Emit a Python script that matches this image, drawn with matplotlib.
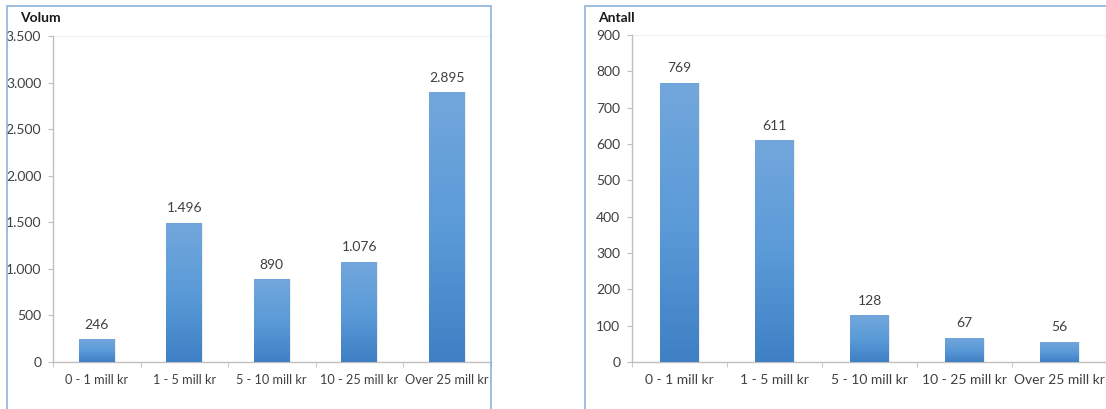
import numpy as np
import matplotlib
matplotlib.use("Agg")
import matplotlib.pyplot as plt
from matplotlib.patches import Rectangle
from matplotlib.colors import LinearSegmentedColormap

plt.rcParams['font.family'] = ['Lato', 'DejaVu Sans']

categories = ["0 - 1 mill kr", "1 - 5 mill kr", "5 - 10 mill kr", "10 - 25 mill kr", "Over 25 mill kr"]
volum = [246, 1496, 890, 1076, 2895]
antall = [769, 611, 128, 67, 56]

volum_ticks = [0, 500, 1000, 1500, 2000, 2500, 3000, 3500]
antall_ticks = [0, 100, 200, 300, 400, 500, 600, 700, 800, 900]

axis_grey = "#bfbfbf"
text_grey = "#404040"
border_blue = "#8db3d9"
bar_cmap = LinearSegmentedColormap.from_list("bar", ["#3f80c5", "#5b9bd8", "#72a7dc"])


def fmt(v):
    # norsk tusenskille
    return f"{v:,}".replace(",", ".")


def draw_panel(ax, values, ticks, title, title_x, xfont):
    x = np.arange(len(categories))
    bars = ax.bar(x, values, width=0.41, color="none", edgecolor="none", zorder=3)
    grad = np.linspace(0, 1, 256).reshape(-1, 1)
    for b in bars:
        x0, w, h = b.get_x(), b.get_width(), b.get_height()
        # svak skygge
        ax.add_patch(Rectangle((x0 + 0.01, 0), w, h, facecolor="#000000", alpha=0.07,
                               edgecolor="none", zorder=2))
        im = ax.imshow(grad, cmap=bar_cmap, origin="lower", extent=[x0, x0 + w, 0, h],
                       aspect="auto", zorder=3)
        im.set_clip_path(b)
    for xi, v in zip(x, values):
        ax.annotate(fmt(v), (xi, v), xytext=(0, 6), textcoords="offset points",
                    ha="center", va="bottom", fontsize=10, color=text_grey)

    ax.set_xlim(-0.5, len(categories) - 0.5)
    ax.set_ylim(0, ticks[-1])
    ax.set_yticks(ticks)
    ax.set_yticklabels([fmt(t) for t in ticks])
    ax.set_xticks(x)
    ax.set_xticklabels(categories)
    ax.set_xticks(np.arange(len(categories) + 1) - 0.5, minor=True)
    ax.tick_params(axis="x", which="major", length=0, pad=9, labelsize=xfont, labelcolor=text_grey)
    ax.tick_params(axis="x", which="minor", length=3.5, color=axis_grey, direction="out")
    ax.tick_params(axis="y", length=3.5, color=axis_grey, pad=5, labelsize=10, labelcolor=text_grey)
    for s in ["top", "right"]:
        ax.spines[s].set_visible(False)
    for s in ["left", "bottom"]:
        ax.spines[s].set_color(axis_grey)
        ax.spines[s].set_linewidth(1.0)
    ax.axhline(ticks[-1], color="#f0f0f0", lw=0.8, zorder=0)
    ax.figure.text(title_x, 0.955, title, fontsize=10, fontweight="bold", color="#1a1a1a",
                   ha="left", va="center")


fig = plt.figure(figsize=(11.06, 4.09), dpi=100)

# rammer rundt de to diagrammene
fig.patches.append(Rectangle((7 / 1106, -0.05), 484 / 1106, 1 - 6 / 409 + 0.05,
                             transform=fig.transFigure, fill=False, edgecolor=border_blue, lw=1.2))
fig.patches.append(Rectangle((585 / 1106, -0.05), 600 / 1106, 1 - 6 / 409 + 0.05,
                             transform=fig.transFigure, fill=False, edgecolor=border_blue, lw=1.2))

ax1 = fig.add_axes([53 / 1106, 1 - 362 / 409, 437.5 / 1106, 326 / 409])
draw_panel(ax1, volum, volum_ticks, "Volum", 20 / 1106, 9.2)

ax2 = fig.add_axes([632 / 1106, 1 - 362 / 409, 475 / 1106, 327 / 409])
draw_panel(ax2, antall, antall_ticks, "Antall", 598 / 1106, 10)

fig.savefig("out.png", dpi=100)
